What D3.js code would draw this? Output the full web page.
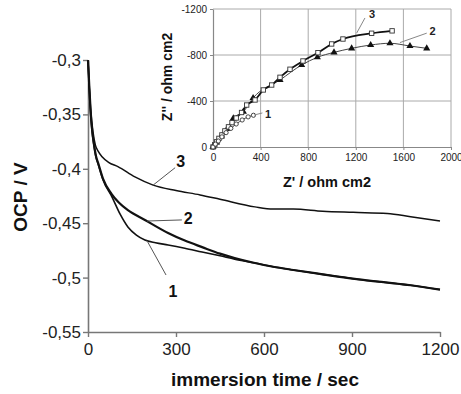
<!DOCTYPE html>
<html>
<head>
<meta charset="utf-8">
<script src="https://cdn.jsdelivr.net/npm/d3@7"></script>
<style>
  body { margin: 0; background: #fff; }
  text { font-family: Arial, "Liberation Sans", sans-serif; }
</style>
</head>
<body>
<script>
// OCP vs immersion time, [t (s), V]
var curve1 = [[0,-0.3],[4,-0.325],[9,-0.35],[14,-0.366],[20,-0.378],[27,-0.389],[35,-0.396],[51,-0.41],[82,-0.426],[110,-0.442],[136,-0.4535],[165,-0.461],[194,-0.4655],[230,-0.468],[273,-0.47],[330,-0.473],[389,-0.4765],[450,-0.48],[500,-0.483],[569,-0.4866],[631,-0.49],[700,-0.493],[800,-0.497],[903,-0.501],[1000,-0.504],[1100,-0.507],[1200,-0.511]]
var curve2 = [[0,-0.3],[4,-0.322],[9,-0.347],[14,-0.364],[20,-0.377],[27,-0.388],[35,-0.395],[51,-0.409],[80,-0.423],[105,-0.431],[136,-0.438],[194,-0.447],[273,-0.459],[330,-0.466],[389,-0.472],[450,-0.478],[500,-0.482],[569,-0.4866],[631,-0.49],[700,-0.493],[800,-0.497],[903,-0.501],[1000,-0.504],[1100,-0.507],[1200,-0.511]]
var curve3 = [[0,-0.3],[4,-0.322],[9,-0.345],[17,-0.366],[25,-0.378],[35,-0.384],[48,-0.389],[70,-0.394],[102,-0.398],[160,-0.4075],[222,-0.415],[300,-0.42],[382,-0.424],[450,-0.428],[569,-0.435],[631,-0.437],[700,-0.437],[800,-0.439],[904,-0.44],[1020,-0.441],[1100,-0.444],[1200,-0.448]]
var xTicks = [0, 300, 600, 900, 1200]
var yTicks = [-0.3, -0.35, -0.4, -0.45, -0.5, -0.55]

// inset: Nyquist, [Z', Z'']
var nyq1 = [[0,0],[20,-25],[45,-52],[75,-88],[110,-125],[150,-162],[195,-200],[245,-235],[295,-262],[340,-276]]
var nyq2 = [[0,0],[30,-40],[70,-92],[120,-160],[171,-250],[255,-307],[337,-426],[563,-583],[745,-713],[877,-780],[1017,-823],[1165,-858],[1325,-887],[1487,-902],[1655,-878],[1796,-858]]
var nyq3 = [[0,0],[15,-20],[30,-45],[50,-75],[75,-105],[100,-140],[130,-175],[160,-212],[195,-252],[240,-300],[283,-365],[353,-409],[423,-496],[493,-539],[563,-606],[647,-676],[756,-748],[882,-820],[997,-896],[1092,-939],[1333,-989],[1505,-1010]]
var insetXTicks = [0, 400, 800, 1200, 1600, 2000]
var insetYTicks = [0, -400, -800, -1200]

var W = 461, H = 394
var svg = d3.select('body').append('svg').attr('width', W).attr('height', H)

var x = d3.scaleLinear().domain([0, 1200]).range([88, 440])
var y = d3.scaleLinear().domain([-0.55, -0.3]).range([332, 60])

var fmt = v => String(+v.toFixed(2)).replace('.', ',')

var ax = svg.append('g').attr('transform', 'translate(0,332)')
	.call(d3.axisBottom(x).tickValues(xTicks).tickSize(5).tickSizeOuter(0).tickFormat(d => d))
var ay = svg.append('g').attr('transform', 'translate(88,0)')
	.call(d3.axisLeft(y).tickValues(yTicks).tickSize(5).tickSizeOuter(0).tickFormat(fmt))
;[ax, ay].forEach(g => {
	g.select('.domain').attr('stroke', '#777').attr('stroke-width', 1.6)
	g.selectAll('.tick line').attr('stroke', '#777').attr('stroke-width', 1.4)
	g.selectAll('.tick text').attr('font-size', 17).attr('fill', '#222')
		.attr('font-family', 'Arial, "Liberation Sans", sans-serif')
})
ax.selectAll('.tick text').attr('dy', '0.71em').attr('y', 11)
ay.selectAll('.tick text').attr('x', -7)

svg.append('text').attr('x', 265).attr('y', 386).attr('text-anchor', 'middle')
	.attr('font-size', 19).attr('font-weight', 'bold').attr('fill', '#111')
	.text('immersion time / sec')
svg.append('text').attr('transform', 'translate(27,197) rotate(-90)').attr('text-anchor', 'middle')
	.attr('font-size', 19).attr('font-weight', 'bold').attr('fill', '#111')
	.text('OCP / V')

var line = d3.line().x(d => x(d[0])).y(d => y(d[1])).curve(d3.curveMonotoneX)
svg.append('path').datum(curve3).attr('d', line).attr('fill', 'none').attr('stroke', '#111').attr('stroke-width', 1.5)
svg.append('path').datum(curve1).attr('d', line).attr('fill', 'none').attr('stroke', '#111').attr('stroke-width', 1.6)
svg.append('path').datum(curve2).attr('d', line).attr('fill', 'none').attr('stroke', '#111').attr('stroke-width', 2.2)

// curve labels with leaders
var mainLabels = [
	{from: [222, -0.415], to: [297, -0.399], at: [316, -0.393], text: '3'},
	{from: [201, -0.448], to: [320, -0.447], at: [342, -0.446], text: '2'},
	{from: [201, -0.466], to: [266, -0.4976], at: [290, -0.513], text: '1'}
]
mainLabels.forEach(l => {
	svg.append('line').attr('x1', x(l.from[0])).attr('y1', y(l.from[1]))
		.attr('x2', x(l.to[0])).attr('y2', y(l.to[1])).attr('stroke', '#555').attr('stroke-width', 1)
	svg.append('text').attr('x', x(l.at[0])).attr('y', y(l.at[1])).attr('dy', '0.35em')
		.attr('text-anchor', 'middle').attr('font-size', 16).attr('font-weight', 'bold').attr('fill', '#111')
		.text(l.text)
})

// inset
var ix = d3.scaleLinear().domain([0, 2000]).range([213, 451])
var iy = d3.scaleLinear().domain([0, -1200]).range([147, 9])
var inset = svg.append('g')
inset.append('rect').attr('x', ix(0)).attr('y', iy(-1200)).attr('width', ix(2000) - ix(0)).attr('height', iy(0) - iy(-1200)).attr('fill', '#fff')
insetXTicks.slice(1).forEach(v => {
	inset.append('line').attr('x1', ix(v)).attr('x2', ix(v)).attr('y1', iy(0)).attr('y2', iy(-1200)).attr('stroke', '#aaa').attr('stroke-width', 1)
})
insetYTicks.slice(1).forEach(v => {
	inset.append('line').attr('x1', ix(0)).attr('x2', ix(2000)).attr('y1', iy(v)).attr('y2', iy(v)).attr('stroke', '#aaa').attr('stroke-width', 1)
})
var iax = inset.append('g').attr('transform', 'translate(0,' + iy(0) + ')')
	.call(d3.axisBottom(ix).tickValues(insetXTicks).tickSize(3).tickSizeOuter(0).tickFormat(d => d))
var iay = inset.append('g').attr('transform', 'translate(' + ix(0) + ',0)')
	.call(d3.axisLeft(iy).tickValues(insetYTicks).tickSize(3).tickSizeOuter(0).tickFormat(d => d == 0 ? '0' : '-' + Math.abs(d)))
;[iax, iay].forEach(g => {
	g.select('.domain').attr('stroke', '#888').attr('stroke-width', 1.2)
	g.selectAll('.tick line').attr('stroke', '#888')
	g.selectAll('.tick text').attr('font-size', 10).attr('fill', '#222')
		.attr('font-family', 'Arial, "Liberation Sans", sans-serif')
})
iax.selectAll('.tick text').attr('y', 7)
iay.selectAll('.tick text').attr('x', -6)

inset.append('text').attr('x', 327).attr('y', 187).attr('text-anchor', 'middle')
	.attr('font-size', 14.5).attr('font-weight', 'bold').attr('fill', '#111').text("Z' / ohm cm2")
inset.append('text').attr('transform', 'translate(172,77) rotate(-90)').attr('text-anchor', 'middle')
	.attr('font-size', 14).attr('font-weight', 'bold').attr('fill', '#111').text("Z'' / ohm cm2")

var iline = d3.line().x(d => ix(d[0])).y(d => iy(d[1])).curve(d3.curveMonotoneX)
inset.append('path').datum(nyq2).attr('d', iline).attr('fill', 'none').attr('stroke', '#444').attr('stroke-width', 1)
inset.append('path').datum(nyq1).attr('d', iline).attr('fill', 'none').attr('stroke', '#444').attr('stroke-width', 1)
inset.append('path').datum(nyq3).attr('d', iline).attr('fill', 'none').attr('stroke', '#111').attr('stroke-width', 1.8)

var tri = d3.symbol().type(d3.symbolTriangle).size(22)
inset.selectAll('.tri').data(nyq2).enter().append('path').attr('class', 'tri')
	.attr('transform', d => 'translate(' + ix(d[0]) + ',' + iy(d[1]) + ')').attr('d', tri).attr('fill', '#111')
inset.selectAll('.sq').data(nyq3).enter().append('rect').attr('class', 'sq')
	.attr('x', d => ix(d[0]) - 2.2).attr('y', d => iy(d[1]) - 2.2).attr('width', 4.4).attr('height', 4.4)
	.attr('fill', '#fff').attr('stroke', '#333').attr('stroke-width', 0.9)
inset.selectAll('.ci').data(nyq1).enter().append('circle').attr('class', 'ci')
	.attr('cx', d => ix(d[0])).attr('cy', d => iy(d[1])).attr('r', 2.1)
	.attr('fill', '#fff').attr('stroke', '#333').attr('stroke-width', 0.9)

var insetLabels = [
	{from: [1207, -990], to: [1277, -1122], at: [1336, -1157], text: '3'},
	{from: [1571, -908], to: [1796, -990], at: [1845, -1010], text: '2'},
	{from: [345, -278], to: [415, -296], at: [462, -285], text: '1'}
]
insetLabels.forEach(l => {
	inset.append('line').attr('x1', ix(l.from[0])).attr('y1', iy(l.from[1]))
		.attr('x2', ix(l.to[0])).attr('y2', iy(l.to[1])).attr('stroke', '#888').attr('stroke-width', 1)
	inset.append('text').attr('x', ix(l.at[0])).attr('y', iy(l.at[1])).attr('dy', '0.35em')
		.attr('text-anchor', 'middle').attr('font-size', 11).attr('font-weight', 'bold').attr('fill', '#222')
		.text(l.text)
})
</script>
</body>
</html>
